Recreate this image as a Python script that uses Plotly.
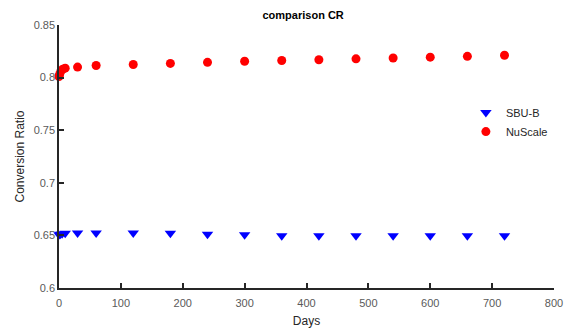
import plotly.graph_objects as go

days_sbu = [0, 2, 5, 10, 30, 60, 120, 180, 240, 300, 360, 420, 480, 540, 600, 660, 720]
cr_sbu = [0.6505, 0.651, 0.6515, 0.652, 0.6522, 0.6522, 0.6522, 0.6521, 0.6512, 0.6505, 0.6497, 0.6496, 0.6496, 0.6496, 0.6496, 0.6496, 0.6496]

days_nu = [0, 1, 3, 6, 10, 30, 60, 120, 180, 240, 300, 360, 420, 480, 540, 600, 660, 720]
cr_nu = [0.801, 0.803, 0.806, 0.808, 0.809, 0.810, 0.8115, 0.8125, 0.8135, 0.8145, 0.8155, 0.8163, 0.817, 0.8178, 0.8186, 0.8194, 0.8202, 0.8212]

fig = go.Figure()
fig.add_trace(go.Scatter(x=days_sbu, y=cr_sbu, mode="markers", name="SBU-B", cliponaxis=False,
                         marker=dict(symbol="triangle-down", size=10, color="#0000ff")))
fig.add_trace(go.Scatter(x=days_nu, y=cr_nu, mode="markers", name="NuScale", cliponaxis=False,
                         marker=dict(symbol="circle", size=9, color="#ff0000")))

axis_font = dict(family="Liberation Sans, Arial", size=11, color="#5a5a5a")
title_font = dict(family="Liberation Sans, Arial", size=12, color="#262626")
fig.update_layout(
    width=572, height=331,
    margin=dict(l=59, r=18, t=25, b=43),
    plot_bgcolor="white", paper_bgcolor="white",
    title=dict(text="<b>comparison CR</b>", x=0.53, xanchor="center", y=0.955, yanchor="middle",
               font=dict(family="Liberation Sans, Arial", size=11, color="black")),
    xaxis=dict(range=[0, 800], tickvals=[0, 100, 200, 300, 400, 500, 600, 700, 800],
               ticks="inside", ticklen=5, tickwidth=1.5, tickcolor="#262626",
               showline=True, linecolor="#262626", linewidth=1.5, showgrid=False, zeroline=False,
               tickfont=axis_font, ticklabelstandoff=4, automargin=False,
               title=dict(text="Days", font=title_font, standoff=9)),
    yaxis=dict(range=[0.6, 0.85], tickvals=[0.6, 0.65, 0.7, 0.75, 0.8, 0.85],
               ticktext=["0.6", "0.65", "0.7", "0.75", "0.8", "0.85"],
               ticks="inside", ticklen=5, tickwidth=1.5, tickcolor="#262626",
               showline=True, linecolor="#262626", linewidth=1.5, showgrid=False, zeroline=False,
               tickfont=axis_font, automargin=False,
               title=dict(text="Conversion Ratio", font=title_font, standoff=6)),
    legend=dict(x=0.822, y=0.722, xanchor="left", yanchor="top", bgcolor="rgba(0,0,0,0)",
                font=dict(family="Liberation Sans, Arial", size=11, color="#262626"),
                tracegroupgap=0),
    showlegend=True,
)
fig.write_html("out.html")
